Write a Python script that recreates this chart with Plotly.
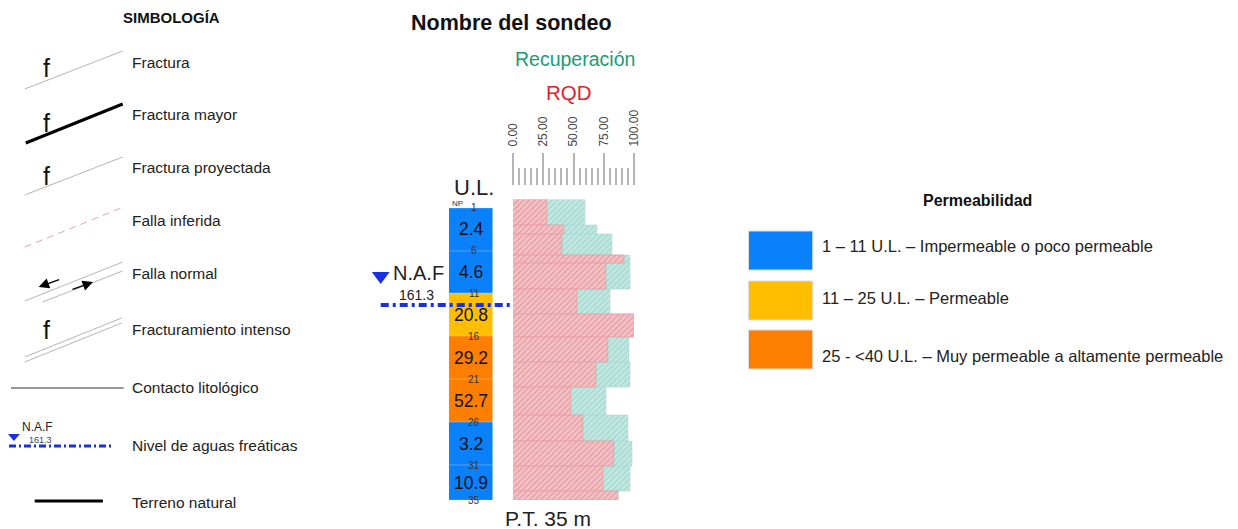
import plotly.graph_objects as go

# ---------------- data ----------------
# core runs (depth intervals, m) with Recovery and RQD (%)
run_top = [0.0, 3.0, 4.1, 6.5, 7.5, 10.5, 13.4, 16.1, 19.0, 21.9, 25.1, 28.2, 31.1, 34.0]
run_bottom = [3.0, 4.1, 6.5, 7.5, 10.5, 13.4, 16.1, 19.0, 21.9, 25.1, 28.2, 31.1, 34.0, 35.0]
recuperacion = [60, 70, 82, 97, 97, 80, 100, 96, 97, 77, 95, 99, 97, 87]
rqd = [28, 42, 41, 92, 77, 53, 100, 79, 69, 48, 58, 84, 75, 87]

# Lugeon test intervals
ul_top = [1, 6, 11, 16, 21, 26, 31]
ul_bottom = [6, 11, 16, 21, 26, 31, 35]
ul_values = [2.4, 4.6, 20.8, 29.2, 52.7, 3.2, 10.9]
depth_marks = [1, 6, 11, 16, 21, 26, 31, 35]

scale_ticks = [0, 25, 50, 75, 100]
scale_labels = ["0.00", "25.00", "50.00", "75.00", "100.00"]

naf_depth = 12.3
naf_elev = "161.3"
total_depth = 35

perm_classes = ["1 – 11 U.L. – Impermeable o poco permeable",
                "11 – 25 U.L. – Permeable",
                "25 - <40 U.L. – Muy permeable a altamente permeable"]
perm_colors = ["#0a80fa", "#ffbf00", "#fe7f00"]

symb_labels = ["Fractura", "Fractura mayor", "Fractura proyectada", "Falla inferida",
               "Falla normal", "Fracturamiento intenso", "Contacto litológico",
               "Nivel de aguas freáticas", "Terreno natural"]

# ---------------- helpers ----------------
W, H = 1238, 529
def X(px):
    return px / W
def Y(py):
    return 1 - py / H

SANS = "Liberation Sans, Arial, sans-serif"
NARROW = "Liberation Sans Narrow, Arial Narrow, Liberation Sans, sans-serif"

def ul_color(v):
    if v < 11:
        return perm_colors[0]
    if v < 25:
        return perm_colors[1]
    return perm_colors[2]

fig = go.Figure()

mid = [(a + b) / 2 for a, b in zip(run_top, run_bottom)]
thk = [b - a for a, b in zip(run_top, run_bottom)]

fig.add_trace(go.Bar(
    orientation="h", y=mid, x=recuperacion, width=thk, base=0,
    xaxis="x", yaxis="y", showlegend=False, hoverinfo="skip",
    marker=dict(color="#c3e7e1", line=dict(width=0.6, color="#a8d8d0"),
                pattern=dict(shape="/", fgcolor="#7cc5b9", size=4, solidity=0.3, fillmode="overlay")),
))
fig.add_trace(go.Bar(
    orientation="h", y=mid, x=rqd, width=thk, base=0,
    xaxis="x", yaxis="y", showlegend=False, hoverinfo="skip",
    marker=dict(color="#f3c3c6", line=dict(width=0.8, color="#e8a0a6"),
                pattern=dict(shape="/", fgcolor="#d66d76", size=4, solidity=0.3, fillmode="overlay")),
))

ul_mid = [(a + b) / 2 for a, b in zip(ul_top, ul_bottom)]
ul_thk = [b - a for a, b in zip(ul_top, ul_bottom)]
fig.add_trace(go.Bar(
    orientation="h", y=ul_mid, x=[1] * len(ul_values), width=ul_thk, base=0,
    xaxis="x2", yaxis="y", showlegend=False, hoverinfo="skip",
    marker=dict(color=[ul_color(v) for v in ul_values], line=dict(width=0.6, color="rgba(255,255,255,0.35)")),
))
# dummy trace for the ruler axis
fig.add_trace(go.Scatter(x=[None], y=[None], xaxis="x3", yaxis="y", showlegend=False))

ydom = [Y(500), Y(199.4)]
fig.update_layout(
    width=W, height=H, margin=dict(l=0, r=0, t=0, b=0),
    paper_bgcolor="white", plot_bgcolor="rgba(0,0,0,0)",
    barmode="overlay", bargap=0,
    font=dict(family=SANS, color="#222"),
    xaxis=dict(domain=[X(512), X(634)], range=[0, 100], visible=False, fixedrange=True),
    xaxis2=dict(domain=[X(447), X(492)], range=[0, 1], visible=False, anchor="y"),
    xaxis3=dict(overlaying="x", anchor="free", position=Y(185), side="top", range=[0, 100],
                showline=False, showgrid=False, zeroline=False,
                tickmode="array", tickvals=scale_ticks, ticktext=scale_labels,
                ticks="outside", ticklen=32, tickwidth=1.6, tickcolor="#b5b5b5",
                tickangle=-90, ticklabelstandoff=4,
                tickfont=dict(size=12, color="#444", family=SANS),
                minor=dict(dtick=5, ticks="outside", ticklen=17, tickwidth=1.6, tickcolor="#b5b5b5",
                           showgrid=False)),
    yaxis=dict(domain=ydom, range=[total_depth, 0], visible=False),
)

ann = []
shapes = []

def text(x, y, t, size=14, color="#222", family=SANS, xanchor="center", bold=False, xref="paper", yref="paper"):
    if bold:
        t = "<b>" + t + "</b>"
    ann.append(dict(x=x, y=y, xref=xref, yref=yref, text=t, showarrow=False,
                    font=dict(size=size, color=color, family=family),
                    xanchor=xanchor, yanchor="middle"))

# titles
text(X(510), Y(23), "Nombre del sondeo", size=21.5, color="#111", bold=True)
text(X(575), Y(59), "Recuperación", size=19.5, color="#1d9a78")
text(X(568), Y(92), "RQD", size=20.5, color="#e4202a")
text(X(472), Y(187), "U.L.", size=22, color="#222", family=NARROW)
text(X(547), Y(518), "P.T. %d m" % total_depth, size=21, color="#222", family=NARROW)

# U.L. values and depth marks
for m, v in zip(ul_mid, ul_values):
    text(0.5, m, str(v), size=17.5, color="#111", family=NARROW, xref="x2", yref="y")
for d in depth_marks:
    text(0.57, d, str(d), size=10, color="#333", family=NARROW, xref="x2", yref="y")
text(0.2, 0.5, "NP", size=8, color="#333", family=NARROW, xref="x2", yref="y")

# water table
shapes.append(dict(type="line", xref="paper", yref="y", x0=X(378), x1=X(512), y0=naf_depth, y1=naf_depth,
                   line=dict(color="#1a2fe0", width=4, dash="8px,4px,3px,4px")))
shapes.append(dict(type="path", xref="paper", yref="paper",
                   path="M %f %f L %f %f L %f %f Z" % (X(369), Y(272), X(387), Y(272), X(378), Y(284)),
                   fillcolor="#1a2fe0", line=dict(width=0)))
text(X(416), Y(273), "N.A.F", size=20, color="#222", family=NARROW)
text(X(414), Y(295), naf_elev, size=14, color="#222", family=NARROW)

# ---------------- symbology legend ----------------
text(X(166), Y(18), "SIMBOLOGÍA", size=15, color="#111", bold=True)
sym_y = [62, 115, 168, 220, 273, 329, 387, 446, 502]
for lab, yy in zip(symb_labels, sym_y):
    text(X(124), Y(yy), lab, size=15.5, xanchor="left")

def seg(x0, y0, x1, y1, color, width, dash="solid"):
    shapes.append(dict(type="line", xref="paper", yref="paper", x0=X(x0), y0=Y(y0), x1=X(x1), y1=Y(y1),
                       line=dict(color=color, width=width, dash=dash)))

seg(18, 89, 117, 51, "#b5b5b5", 1)
seg(19, 143, 117, 104, "#000", 3)
seg(18, 195, 117, 157, "#b5b5b5", 1)
seg(18, 247, 118, 207, "#e8a3aa", 1, dash="7px,5px")
seg(18, 301, 117, 262, "#b5b5b5", 1)
seg(36, 302, 117, 271, "#b5b5b5", 1)
seg(18, 357, 116, 318, "#b5b5b5", 1)
seg(18, 362, 116, 323, "#b5b5b5", 1)
seg(4, 388, 118, 388, "#333", 1.2)
seg(28, 501, 97, 501, "#000", 3)
seg(2, 446, 106, 446, "#1a2fe0", 3, dash="7px,3px,2px,3px")
for fy in [68, 123, 176, 330]:
    text(X(40), Y(fy), "f", size=25, color="#111")
# arrows for normal fault
ann.append(dict(x=X(32), y=Y(287), xref="paper", yref="paper", ax=22, ay=-8, text="",
                showarrow=True, arrowhead=2, arrowsize=1.6, arrowwidth=1.3, arrowcolor="#000"))
ann.append(dict(x=X(87), y=Y(282), xref="paper", yref="paper", ax=-22, ay=8, text="",
                showarrow=True, arrowhead=2, arrowsize=1.6, arrowwidth=1.3, arrowcolor="#000"))
shapes.append(dict(type="path", xref="paper", yref="paper",
                   path="M %f %f L %f %f L %f %f Z" % (X(1), Y(434), X(13), Y(434), X(7), Y(441)),
                   fillcolor="#1a2fe0", line=dict(width=0)))
text(X(31), Y(427), "N.A.F", size=12, color="#222")
text(X(34), Y(440), naf_elev, size=9, color="#444")

# ---------------- permeability legend ----------------
text(X(982), Y(200), "Permeabilidad", size=16, color="#111", bold=True)
box_top = [231, 281, 330]
box_txt = [246, 298, 356]
for lab, col, bt, ty in zip(perm_classes, perm_colors, box_top, box_txt):
    shapes.append(dict(type="rect", xref="paper", yref="paper", x0=X(750), x1=X(815), y0=Y(bt), y1=Y(bt + 39),
                       fillcolor=col, line=dict(color="#dddddd", width=1)))
    text(X(822), Y(ty), lab, size=16.5, xanchor="left")

fig.update_layout(annotations=ann, shapes=shapes)
fig.write_html("out.html", config={"displayModeBar": False},
               post_script="document.body.style.margin='0px';")
